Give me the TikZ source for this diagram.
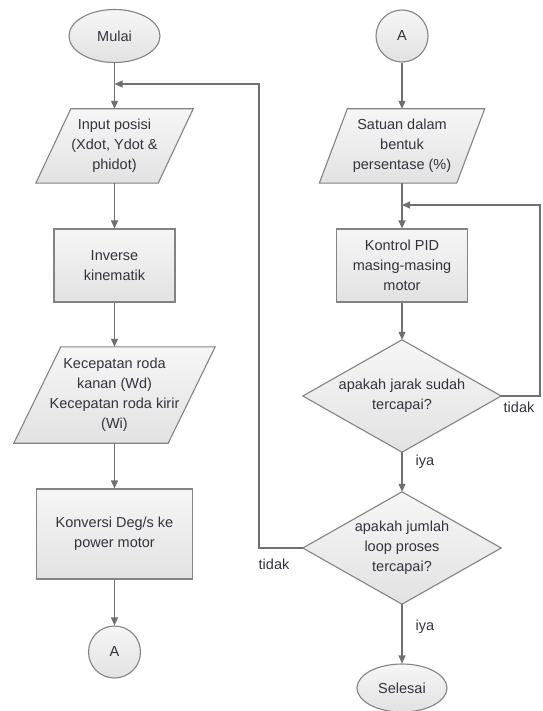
\documentclass[tikz,border=0pt]{standalone}
\usepackage{fontspec}
\setmainfont{Liberation Sans}
\usetikzlibrary{shapes.geometric,arrows.meta,backgrounds}
\definecolor{lc}{HTML}{707070}
\definecolor{bc}{HTML}{838383}
\definecolor{tc}{HTML}{33333E}
\definecolor{ft}{HTML}{F6F6F6}
\definecolor{fb}{HTML}{E2E2E2}
\begin{document}
\begin{tikzpicture}[x=1pt,y=-1pt,
  txt/.style={font=\fontsize{14.5}{20}\selectfont, text=tc, align=center, inner sep=0pt},
  shp/.style={draw=bc, line width=1.1pt, top color=ft, bottom color=fb},
  term/.style={txt, shp, ellipse},
  conn/.style={txt, shp, circle, minimum size=52pt},
  wire/.style={draw=lc, line width=1.1pt},
  flow/.style={wire, -{Triangle[length=8pt,width=7pt]}}]
\useasboundingbox (0,0) rectangle (542,711);

% nodes
\node[term, minimum width=91pt, minimum height=53pt] (mulai) at (114.5,36) {Mulai};
\node[txt, minimum width=157pt, minimum height=74pt] (inp) at (114.5,146) {Input posisi\\(Xdot, Ydot \&\\phidot)};
\node[txt, shp, minimum width=121pt, minimum height=73pt] (inv) at (114.5,265.5) {Inverse\\kinematik};
\node[txt, minimum width=201pt, minimum height=96pt] (kec) at (114.5,395) {Kecepatan roda\\kanan (Wd)\\Kecepatan roda kirir\\(Wi)};
\node[txt, shp, minimum width=156pt, minimum height=90pt] (konv) at (114.5,534) {Konversi Deg/s ke\\power motor};
\node[conn] (a1) at (114.5,652) {A};

\node[conn] (a2) at (402,36) {A};
\node[txt, minimum width=165pt, minimum height=74pt] (sat) at (402,146) {Satuan dalam\\bentuk\\persentase (\%)};
\node[txt, shp, minimum width=131pt, minimum height=73pt] (pid) at (402,265.5) {Kontrol PID\\masing-masing\\motor};
\node[txt, minimum width=198pt, minimum height=112pt] (d1) at (402,396) {apakah jarak sudah\\tercapai?};
\node[txt, minimum width=198pt, minimum height=112pt] (d2) at (402,548) {apakah jumlah\\loop proses\\tercapai?};
\node[term, minimum width=90pt, minimum height=48pt] (sel) at (402,688) {Selesai};

\node[txt] (t1) at (519,407) {tidak};
\node[txt] (t2) at (274,564) {tidak};

% shapes behind text
\begin{scope}[on background layer]
  \path[shp] ([xshift=35pt]inp.north west) -- (inp.north east) -- ([xshift=-35pt]inp.south east) -- (inp.south west) -- cycle;
  \path[shp] ([xshift=47pt]kec.north west) -- (kec.north east) -- ([xshift=-47pt]kec.south east) -- (kec.south west) -- cycle;
  \path[shp] ([xshift=28pt]sat.north west) -- (sat.north east) -- ([xshift=-28pt]sat.south east) -- (sat.south west) -- cycle;
  \path[shp] (d1.north) -- (d1.east) -- (d1.south) -- (d1.west) -- cycle;
  \path[shp] (d2.north) -- (d2.east) -- (d2.south) -- (d2.west) -- cycle;
\end{scope}

% connectors
\coordinate (j1) at (114.5,84);
\coordinate (l1) at (259,84);
\coordinate (j2) at (402,205);
\coordinate (r1) at (540,205);

\draw[flow] (mulai.south) -- (inp.north);
\draw[flow] (inp.south) -- (inv.north);
\draw[flow] (inv.south) -- (kec.north);
\draw[flow] (kec.south) -- (konv.north);
\draw[flow] (konv.south) -- (a1.north);

\draw[flow] (a2.south) -- (sat.north);
\draw[flow] (sat.south) -- (pid.north);
\draw[flow] (pid.south) -- (d1.north);
\draw[flow] (d1.south) -- node[txt, pos=0.25, anchor=west, xshift=13pt] (y1) {iya} (d2.north);
\draw[flow] (d2.south) -- node[txt, pos=0.38, anchor=west, xshift=13pt] (y2) {iya} (sel.north);

\draw[flow] (d1.east) -| (r1) -- (j2);
\draw[flow] (d2.west) -| (l1) -- (j1);
\end{tikzpicture}
\end{document}
